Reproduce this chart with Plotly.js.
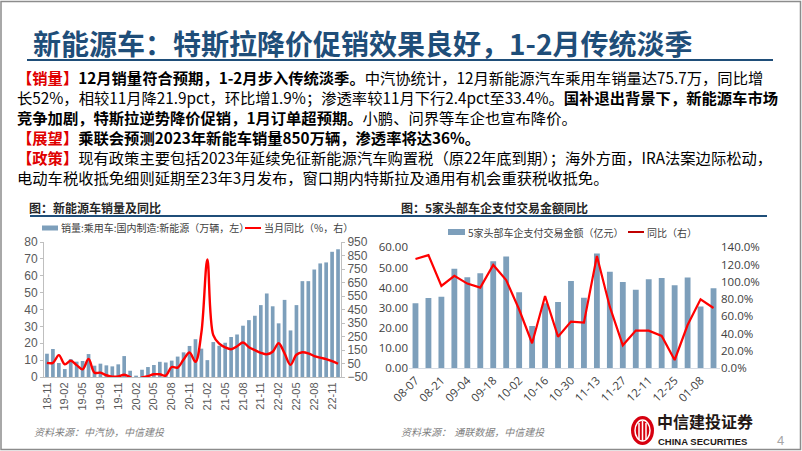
<!DOCTYPE html>
<html><head><meta charset="utf-8">
<script src="https://cdn.plot.ly/plotly-3.0.1.min.js"></script>
<style>html,body{margin:0;padding:0;background:#fff;}#chart{width:802px;height:451px;}</style>
</head><body><div id="chart"></div>
<script>
// ---- Chart 1 data: NEV passenger car sales (万辆) and YoY (%) ----
const months1 = ["18-11","18-12","19-01","19-02","19-03","19-04","19-05","19-06","19-07","19-08","19-09","19-10","19-11","19-12",
  "20-01","20-02","20-03","20-04","20-05","20-06","20-07","20-08","20-09","20-10","20-11","20-12",
  "21-01","21-02","21-03","21-04","21-05","21-06","21-07","21-08","21-09","21-10","21-11","21-12",
  "22-01","22-02","22-03","22-04","22-05","22-06","22-07","22-08","22-09","22-10","22-11","22-12"];
const sales1 = [13.8,16.6,8.3,4.7,10.6,9.1,9.5,13.6,6.7,7.9,6.9,6.3,7.5,12.4,
  3.7,0.8,4.3,5.9,7.1,9.0,8.6,9.7,12.1,14.6,18.4,22.4,
  16.8,10.0,20.7,18.5,20.3,23.7,25.2,30.4,33.7,36.3,42.6,49.5,
  41.9,31.8,45.7,27.6,42.6,56.8,56.8,63.7,67.3,67.9,74.2,75.7];
const yoy1 = [55,55,112,44,70,38,7,83,-18,-18,-37,-48,-46,-33,
  -52,-76,-53,-43,-30,-30,-40,24,20,80,132,63,
  280,820,260,198,170,156,178,206,171,149,129,118,
  137,200,125,40,115,133,125,105,93,83,68,48];
const ticks1 = ["18-11","19-02","19-05","19-08","19-11","20-02","20-05","20-08","20-11","21-02","21-05","21-08","21-11","22-02","22-05","22-08","22-11"];
const leftTicks1 = [0,10,20,30,40,50,60,70,80];
const rightTicks1 = [-50,50,150,250,350,450,550,650,750,850,950];

// ---- Chart 2 data: top-5 automakers payment amount (亿元) and YoY (%) ----
const weeks2 = ["08-07","08-14","08-21","08-28","09-04","09-11","09-18","09-25","10-02","10-09","10-16","10-23",
  "10-30","11-06","11-13","11-20","11-27","12-04","12-11","12-18","12-25","01-01","01-08","01-15"];
const amt2 = [32.2,34.9,35.5,49.4,45.1,47.1,53.1,55.4,37.7,21.0,32.2,32.9,
  43.3,35.0,56.9,47.9,42.8,39.0,44.1,44.8,41.2,45.0,30.6,39.7];
const yoy2 = [126.5,131,95.3,107,98,93.3,119.5,102,68,29,83.7,36.6,
  54,52.8,130,71,26.6,43.6,43.6,37.4,9.6,50.1,79.8,69.8];
const ticks2 = ["08-07","08-21","09-04","09-18","10-02","10-16","10-30","11-13","11-27","12-11","12-25","01-08"];

const W = 802, H = 451;
const P = x => x / W;
const Q = y => 1 - y / H;
const BLUE = "#7D9FBB", RED = "#FF0000", NAVY = "#1F4E79", TXT = "#595959";
const CJK = "Noto Sans CJK SC, Noto Sans, sans-serif";

const traces = [
  {type:"bar", x:months1, y:sales1, xaxis:"x", yaxis:"y", marker:{color:BLUE}, width:0.62, hoverinfo:"skip"},
  {type:"scatter", mode:"lines", x:months1, y:yoy1, xaxis:"x", yaxis:"y2", line:{color:RED, width:2.4, shape:"spline", smoothing:1}, hoverinfo:"skip"},
  {type:"bar", x:weeks2, y:amt2, xaxis:"x3", yaxis:"y3", marker:{color:BLUE}, width:0.45, hoverinfo:"skip"},
  {type:"scatter", mode:"lines", x:weeks2, y:yoy2, xaxis:"x3", yaxis:"y4", line:{color:RED, width:2.2}, hoverinfo:"skip"}
];

function ann(text, x, y, o) {
  o = o || {};
  return Object.assign({text:text, x:P(x), y:Q(y), xref:"paper", yref:"paper", showarrow:false,
    xanchor:"left", yanchor:"middle", align:"left",
    font:{family:CJK, size:15, color:"#000"}}, o);
}
const R = s => '<span style="color:#E00000"><b>' + s + '</b></span>';

const body = 15.3;
const bf = {family:CJK, size:body, color:"#000"};
const lf = {family:CJK, size:10, color:"#404040"};
const para1 = [
  R("【销量】") + "<b>12月销量符合预期，1-2月步入传统淡季。</b>中汽协统计，12月新能源汽车乘用车销量达75.7万，同比增",
  "长52%，相较11月降21.9pct，环比增1.9%；渗透率较11月下行2.4pct至33.4%。<b>国补退出背景下，新能源车市场</b>",
  "<b>竞争加剧，特斯拉逆势降价促销，1月订单超预期。</b>小鹏、问界等车企也宣布降价。",
  R("【展望】") + "<b>乘联会预测2023年新能车销量850万辆，渗透率将达36%。</b>"
];
const para2 = [
  R("【政策】") + "现有政策主要包括2023年延续免征新能源汽车购置税（原22年底到期）；海外方面，IRA法案边际松动，",
  "电动车税收抵免细则延期至23年3月发布，窗口期内特斯拉及通用有机会重获税收抵免。"
];
const annotations = [
  ann("<b>新能源车：特斯拉降价促销效果良好，1-2月传统淡季</b>", 31, 43, {font:{family:CJK, size:28, color:NAVY}}),
  ann(para1.join("<br>"), 15, 106.6, {font:bf}),
  ann(para2.join("<br>"), 15, 166.8, {font:bf}),
  // chart titles
  ann("<b>图：新能源车销量及同比</b>", 27, 207, {font:{family:CJK, size:12, color:"#262626"}}),
  ann("<b>图：5家头部车企支付交易金额同比</b>", 399, 207, {font:{family:CJK, size:12, color:"#262626"}}),
  // legends
  ann("销量:乘用车:国内制造:新能源（万辆，左）", 59, 228, {font:lf}),
  ann("当月同比（%，右）", 262, 228, {font:lf}),
  ann("5家头部车企支付交易金额（亿元）", 466, 232, {font:lf}),
  ann("同比（右）", 645, 232, {font:lf}),
  // sources
  ann("<i>资料来源：中汽协，中信建投</i>", 32, 432, {font:{family:"DejaVu Serif, Noto Sans CJK SC, serif", size:10, color:"#7F7F7F"}}),
  ann("<i>资料来源： 通联数据，中信建投</i>", 399, 432, {font:{family:"DejaVu Serif, Noto Sans CJK SC, serif", size:10, color:"#7F7F7F"}}),
  // logo text
  ann("<b>中信建投证券</b>", 655, 421, {font:{family:CJK, size:16, color:"#231815"}}),
  ann("<b>CHINA SECURITIES</b>", 656, 441, {font:{family:"Liberation Sans Narrow, Liberation Sans, sans-serif", size:9.5, color:"#231815"}}),
  ann("4", 775, 440, {font:{family:"Liberation Sans, sans-serif", size:13, color:"#A6A6A6"}})
];

const line = (x0,y0,x1,y1,color,w) => ({type:"line", xref:"paper", yref:"paper", x0:P(x0), y0:Q(y0), x1:P(x1), y1:Q(y1), line:{color:color, width:w}});
const shapes = [
  // slide frame
  {type:"rect", xref:"paper", yref:"paper", x0:P(1), y0:Q(449.5), x1:P(800.5), y1:Q(1.5), line:{color:"#8C8C8C", width:1.5}},
  line(27, 60, 773, 60, NAVY, 2),
  line(30, 216, 398, 216, NAVY, 2),
  line(390, 216, 767, 216, NAVY, 2),
  // legend swatches
  {type:"rect", xref:"paper", yref:"paper", x0:P(42), y0:Q(230.5), x1:P(58), y1:Q(225.5), fillcolor:BLUE, line:{width:0}},
  line(245, 228, 261, 228, RED, 2),
  {type:"rect", xref:"paper", yref:"paper", x0:P(448), y0:Q(235), x1:P(465), y1:Q(229), fillcolor:BLUE, line:{width:0}},
  line(628, 232, 644, 232, "#C00000", 2),
  // logo
  {type:"circle", xref:"paper", yref:"paper", x0:P(631), y0:Q(445), x1:P(654), y1:Q(416), fillcolor:"#D7000F", line:{width:0}},
  {type:"circle", xref:"paper", yref:"paper", x0:P(635), y0:Q(441), x1:P(650), y1:Q(420), fillcolor:"rgba(0,0,0,0)", line:{color:"#fff", width:1.5}},
  line(639, 423, 639, 439, "#fff", 1.5),
  line(642.5, 421, 642.5, 441, "#fff", 1.5),
  line(646, 423, 646, 439, "#fff", 1.5)
];

const tf = {family:"Liberation Sans, Arial, sans-serif", size:12, color:TXT};
const tf2 = {family:"Open Sans, Liberation Sans, sans-serif", size:11.5, color:"#404040"};
const layout = {
  width:W, height:H, margin:{l:0,r:0,t:0,b:0}, paper_bgcolor:"#fff", plot_bgcolor:"rgba(0,0,0,0)",
  showlegend:false, annotations:annotations, shapes:shapes,
  xaxis:{domain:[P(44),P(341)], anchor:"y", type:"category", range:[-0.5,49.5], tickmode:"array", tickvals:ticks1, ticktext:ticks1,
    tickangle:-90, tickfont:{family:"Liberation Sans, Arial, sans-serif", size:11, color:TXT}, showline:true, linecolor:"#BFBFBF", linewidth:1,
    ticks:"", showgrid:false, zeroline:false, fixedrange:true},
  yaxis:{domain:[Q(377),Q(242)], anchor:"x", range:[0,80], tickmode:"array", tickvals:leftTicks1, tickfont:tf,
    showline:true, linecolor:"#BFBFBF", ticks:"outside", ticklen:3, tickcolor:"#BFBFBF", showgrid:false, zeroline:false, fixedrange:true},
  yaxis2:{overlaying:"y", anchor:"x", side:"right", range:[-50,950], tickmode:"array", tickvals:rightTicks1, tickfont:tf,
    showline:true, linecolor:"#BFBFBF", ticks:"outside", ticklen:3, tickcolor:"#BFBFBF", showgrid:false, zeroline:false, fixedrange:true},
  xaxis3:{domain:[P(409),P(720)], anchor:"y3", type:"category", range:[-0.5,23.5], tickmode:"array", tickvals:ticks2, ticktext:ticks2,
    tickangle:-45, tickfont:tf2, showline:true, linecolor:"#D6DCE4", ticks:"", showgrid:false, zeroline:false, fixedrange:true},
  yaxis3:{domain:[Q(368.3),Q(247.3)], anchor:"x3", range:[0,60], dtick:10, tickformat:".2f", tickfont:tf2,
    showline:false, ticks:"", showgrid:false, zeroline:false, fixedrange:true},
  yaxis4:{overlaying:"y3", anchor:"x3", side:"right", range:[0,140], dtick:20, tickformat:".1f", ticksuffix:"%", tickfont:tf2,
    showline:false, ticks:"", showgrid:false, zeroline:false, fixedrange:true}
};
Plotly.newPlot("chart", traces, layout, {staticPlot:true, displayModeBar:false});
</script></body></html>
